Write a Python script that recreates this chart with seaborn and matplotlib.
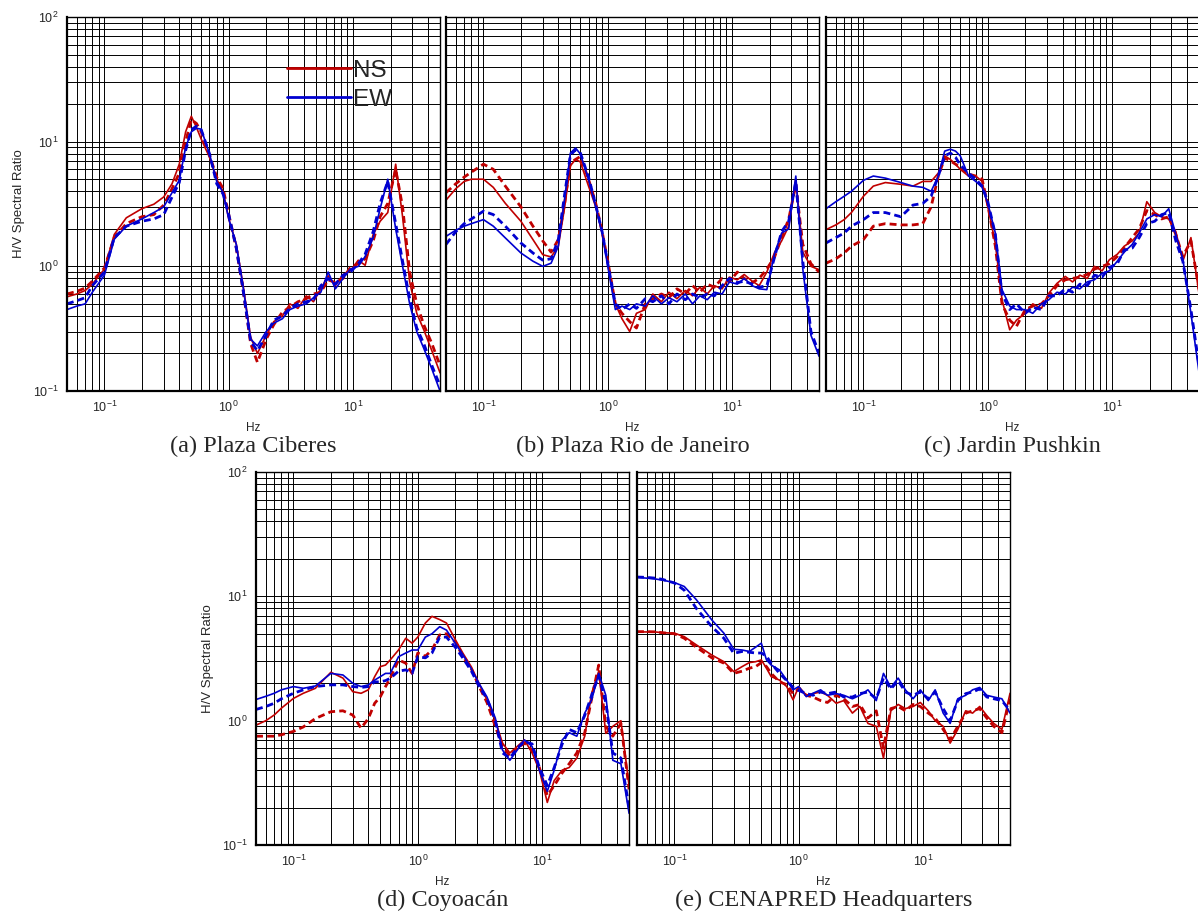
import pandas as pd
import matplotlib.pyplot as plt
import seaborn as sns
from matplotlib.lines import Line2D

# frequency grid (Hz) shared by every curve
freq = [0.05, 0.06, 0.07, 0.08, 0.1, 0.12, 0.15, 0.2, 0.25, 0.3, 0.35, 0.4, 0.45, 0.5,
        0.55, 0.6, 0.7, 0.8, 0.9, 1.0, 1.15, 1.3, 1.5, 1.7, 2.0, 2.3, 2.7, 3.1, 3.6, 4.2,
        4.8, 5.5, 6.3, 7.2, 8.3, 9.5, 11, 12.5, 14.5, 16.5, 19, 22, 25, 28.5, 32.5, 37, 43, 50]

# (a) Plaza Ciberes
a_ns = [0.57, 0.6, 0.64, 0.72, 0.95, 1.8, 2.45, 2.9, 3.15, 3.6, 4.6, 6.6, 12.0, 16.0, 13.0, 10.5,
        7.5, 5.0, 4.0, 2.4, 1.5, 0.72, 0.27, 0.2, 0.28, 0.36, 0.4, 0.5, 0.46, 0.58, 0.52, 0.66,
        0.84, 0.7, 0.86, 0.92, 1.12, 1.02, 1.8, 2.3, 2.7, 6.6, 2.5, 0.75, 0.42, 0.31, 0.21, 0.14]
a_ns_d = [0.6, 0.63, 0.67, 0.76, 0.97, 1.7, 2.2, 2.5, 2.6, 3.1, 4.2, 5.6, 10.0, 15.0, 14.0, 12.0,
          7.8, 5.2, 4.2, 2.6, 1.4, 0.66, 0.24, 0.17, 0.26, 0.34, 0.43, 0.47, 0.52, 0.55, 0.6, 0.62,
          0.78, 0.74, 0.8, 0.98, 1.05, 1.15, 1.6, 2.5, 3.2, 6.0, 3.0, 0.9, 0.5, 0.34, 0.24, 0.16]
a_ew = [0.45, 0.48, 0.5, 0.62, 0.85, 1.65, 2.1, 2.4, 2.7, 3.0, 3.9, 4.9, 9.0, 12.0, 12.8, 12.6,
        8.0, 4.8, 3.9, 2.4, 1.5, 0.7, 0.26, 0.23, 0.3, 0.35, 0.38, 0.45, 0.48, 0.5, 0.56, 0.62,
        0.9, 0.66, 0.8, 0.95, 1.0, 1.2, 1.7, 2.9, 5.0, 2.0, 1.0, 0.5, 0.3, 0.22, 0.15, 0.1]
a_ew_d = [0.5, 0.53, 0.56, 0.7, 0.9, 1.7, 2.1, 2.3, 2.4, 2.6, 3.6, 4.7, 8.5, 12.5, 13.3, 12.5,
          8.0, 4.6, 3.8, 2.6, 1.4, 0.66, 0.25, 0.21, 0.28, 0.37, 0.4, 0.46, 0.5, 0.52, 0.54, 0.7,
          0.8, 0.72, 0.85, 0.9, 1.05, 1.25, 1.9, 3.2, 4.8, 2.2, 1.1, 0.55, 0.32, 0.24, 0.16, 0.11]

# (b) Plaza Rio de Janeiro
b_ns = [3.4, 4.2, 4.8, 5.0, 5.0, 4.3, 3.2, 2.3, 1.64, 1.24, 1.19, 1.45, 3.0, 6.4, 7.2, 6.9,
        4.4, 3.0, 1.85, 1.06, 0.5, 0.38, 0.3, 0.42, 0.45, 0.6, 0.52, 0.62, 0.55, 0.64, 0.58, 0.68,
        0.6, 0.7, 0.66, 0.82, 0.78, 0.86, 0.76, 0.7, 0.9, 1.3, 1.6, 2.1, 5.0, 1.3, 1.0, 0.94]
b_ns_d = [3.9, 4.6, 5.2, 5.7, 6.6, 6.0, 4.4, 3.0, 2.1, 1.6, 1.3, 1.64, 3.2, 6.8, 7.2, 7.6,
          5.0, 3.2, 1.9, 1.1, 0.5, 0.42, 0.36, 0.32, 0.5, 0.55, 0.6, 0.56, 0.66, 0.6, 0.7, 0.62,
          0.72, 0.68, 0.8, 0.75, 0.9, 0.8, 0.74, 0.8, 0.95, 1.2, 1.7, 2.4, 4.5, 1.5, 1.05, 0.9]
b_ew = [1.74, 1.95, 2.1, 2.2, 2.37, 2.1, 1.69, 1.28, 1.1, 1.0, 1.06, 1.45, 3.5, 8.1, 8.9, 8.0,
        5.0, 3.0, 1.85, 1.0, 0.45, 0.48, 0.45, 0.5, 0.48, 0.58, 0.5, 0.56, 0.52, 0.6, 0.5, 0.58,
        0.54, 0.62, 0.6, 0.75, 0.72, 0.8, 0.7, 0.66, 0.65, 1.28, 1.85, 2.0, 5.3, 0.95, 0.28, 0.19]
b_ew_d = [1.5, 1.9, 2.2, 2.4, 2.77, 2.6, 2.1, 1.54, 1.28, 1.12, 1.15, 1.64, 3.8, 7.8, 8.6, 8.2,
          5.2, 3.1, 1.9, 1.05, 0.5, 0.45, 0.5, 0.46, 0.55, 0.52, 0.58, 0.5, 0.6, 0.54, 0.6, 0.56,
          0.6, 0.58, 0.7, 0.8, 0.74, 0.76, 0.72, 0.68, 0.7, 1.2, 1.9, 2.3, 4.8, 1.1, 0.3, 0.2]

# (c) Jardin Pushkin
c_ns = [1.97, 2.15, 2.37, 2.7, 3.65, 4.4, 4.7, 4.55, 4.4, 4.8, 4.8, 5.6, 7.7, 7.2, 6.6, 6.0,
        5.3, 5.3, 4.8, 3.0, 1.52, 0.54, 0.31, 0.37, 0.42, 0.5, 0.46, 0.61, 0.73, 0.83, 0.75, 0.85,
        0.8, 1.0, 0.92, 1.13, 1.25, 1.45, 1.6, 1.85, 3.3, 2.7, 2.5, 2.4, 1.9, 1.1, 1.7, 0.6]
c_ns_d = [1.06, 1.15, 1.28, 1.45, 1.64, 2.1, 2.2, 2.15, 2.15, 2.2, 3.0, 5.3, 7.4, 7.0, 6.6, 6.2,
          5.5, 5.3, 5.0, 3.1, 1.45, 0.5, 0.37, 0.33, 0.45, 0.48, 0.5, 0.58, 0.7, 0.78, 0.8, 0.82,
          0.86, 0.95, 1.0, 1.05, 1.2, 1.4, 1.7, 2.0, 2.8, 2.6, 2.4, 2.5, 1.8, 1.2, 1.6, 0.65]
c_ew = [2.9, 3.3, 3.65, 4.0, 4.9, 5.3, 5.1, 4.7, 4.4, 4.3, 4.0, 5.3, 8.4, 8.7, 8.4, 7.7,
        5.3, 4.8, 4.3, 3.2, 1.85, 0.65, 0.48, 0.45, 0.45, 0.42, 0.5, 0.54, 0.62, 0.6, 0.68, 0.66,
        0.75, 0.78, 0.88, 0.92, 1.1, 1.3, 1.5, 1.85, 2.4, 2.6, 2.5, 2.9, 1.8, 1.15, 0.42, 0.14]
c_ew_d = [1.54, 1.7, 1.85, 2.1, 2.37, 2.7, 2.7, 2.5, 3.1, 3.2, 3.65, 5.3, 7.7, 8.1, 7.5, 6.5,
          5.6, 5.0, 4.4, 3.3, 1.8, 0.6, 0.45, 0.5, 0.42, 0.47, 0.45, 0.58, 0.58, 0.66, 0.62, 0.72,
          0.7, 0.85, 0.82, 0.98, 1.05, 1.35, 1.4, 1.7, 2.2, 2.3, 2.6, 2.7, 1.6, 1.1, 0.45, 0.16]

# (d) Coyoacán
d_ns = [0.92, 1.0, 1.11, 1.26, 1.51, 1.66, 1.82, 2.45, 2.2, 1.71, 1.66, 1.77, 2.26, 2.72, 2.8, 3.08,
        3.7, 4.6, 4.2, 4.7, 6.1, 6.9, 6.5, 6.1, 4.5, 3.5, 2.7, 2.0, 1.47, 1.0, 0.66, 0.55,
        0.62, 0.7, 0.55, 0.4, 0.22, 0.33, 0.4, 0.42, 0.5, 0.75, 1.66, 2.5, 0.79, 0.9, 1.0, 0.3]
d_ns_d = [0.75, 0.75, 0.75, 0.77, 0.82, 0.89, 1.04, 1.18, 1.2, 1.11, 0.87, 1.04, 1.38, 1.56, 1.88, 2.19,
          3.08, 2.9, 2.4, 3.5, 3.3, 3.7, 4.9, 5.0, 4.3, 3.3, 2.6, 1.9, 1.4, 0.9, 0.62, 0.52,
          0.6, 0.66, 0.58, 0.42, 0.25, 0.3, 0.38, 0.45, 0.55, 0.8, 1.5, 2.8, 0.9, 0.75, 0.95, 0.28]
d_ew = [1.48, 1.57, 1.66, 1.77, 1.88, 1.82, 1.9, 2.4, 2.33, 2.0, 1.88, 1.94, 2.12, 2.26, 2.4, 2.4,
        3.27, 3.5, 3.7, 3.7, 4.7, 5.0, 5.7, 5.35, 4.2, 3.4, 2.6, 2.0, 1.55, 1.05, 0.58, 0.48,
        0.58, 0.7, 0.62, 0.4, 0.27, 0.4, 0.7, 0.8, 0.75, 1.15, 1.47, 2.4, 1.6, 0.48, 0.45, 0.18]
d_ew_d = [1.23, 1.3, 1.38, 1.5, 1.66, 1.77, 1.88, 1.94, 1.94, 1.88, 1.85, 1.88, 2.05, 2.05, 2.1, 2.19,
          2.5, 2.56, 2.4, 3.27, 3.2, 3.5, 4.7, 4.7, 3.9, 3.2, 2.5, 1.9, 1.5, 1.0, 0.55, 0.5,
          0.6, 0.68, 0.65, 0.42, 0.3, 0.42, 0.65, 0.85, 0.8, 1.1, 1.6, 2.3, 1.4, 0.55, 0.5, 0.2]

# (e) CENAPRED Headquarters
e_ns = [5.17, 5.17, 5.17, 5.1, 5.05, 4.74, 4.07, 3.37, 2.98, 2.48, 2.72, 2.93, 2.98, 3.08, 2.64, 2.26,
        2.12, 1.88, 1.47, 1.88, 1.6, 1.65, 1.7, 1.6, 1.38, 1.45, 1.15, 1.3, 0.95, 0.9, 0.5, 1.2,
        1.35, 1.25, 1.3, 1.4, 1.2, 1.0, 0.9, 0.66, 0.85, 1.2, 1.15, 1.3, 1.1, 0.95, 0.85, 1.66]
e_ns_d = [5.2, 5.2, 5.18, 5.1, 5.0, 4.6, 3.9, 3.2, 2.9, 2.4, 2.5, 2.64, 2.72, 2.93, 2.72, 2.4,
          2.05, 1.95, 1.65, 1.8, 1.6, 1.55, 1.45, 1.4, 1.6, 1.5, 1.3, 1.35, 1.05, 1.2, 0.6, 1.25,
          1.3, 1.2, 1.35, 1.3, 1.15, 1.05, 0.85, 0.7, 0.9, 1.15, 1.2, 1.25, 1.05, 0.9, 0.8, 1.5]
e_ew = [14.2, 14.0, 13.8, 13.5, 12.9, 12.0, 9.4, 6.45, 5.05, 3.75, 3.7, 3.6, 3.9, 4.2, 3.08, 2.8,
        2.56, 2.12, 1.77, 1.88, 1.56, 1.66, 1.77, 1.6, 1.65, 1.6, 1.5, 1.6, 1.77, 1.45, 2.4, 1.85,
        2.2, 1.77, 1.5, 1.77, 1.45, 1.77, 1.15, 0.95, 1.5, 1.6, 1.77, 1.85, 1.6, 1.55, 1.5, 1.15]
e_ew_d = [14.3, 14.2, 14.0, 13.7, 12.8, 11.2, 8.0, 5.7, 4.6, 3.48, 3.6, 3.55, 3.5, 3.5, 3.3, 2.9,
          2.4, 2.1, 1.85, 1.75, 1.65, 1.6, 1.7, 1.65, 1.7, 1.55, 1.55, 1.65, 1.7, 1.5, 2.2, 1.8,
          2.1, 1.7, 1.6, 1.7, 1.5, 1.7, 1.25, 1.0, 1.45, 1.65, 1.7, 1.8, 1.55, 1.5, 1.45, 1.2]

panels = [
    ('(a) Plaza Ciberes', a_ns, a_ns_d, a_ew, a_ew_d),
    ('(b) Plaza Rio de Janeiro', b_ns, b_ns_d, b_ew, b_ew_d),
    ('(c) Jardin Pushkin', c_ns, c_ns_d, c_ew, c_ew_d),
    ('(d) Coyoacán', d_ns, d_ns_d, d_ew, d_ew_d),
    ('(e) CENAPRED Headquarters', e_ns, e_ns_d, e_ew, e_ew_d),
]

# axes boxes in figure fraction: left, bottom, width, height
boxes = [
    (0.0559, 0.5722, 0.3114, 0.4092),
    (0.3723, 0.5722, 0.3114, 0.4092),
    (0.6895, 0.5722, 0.3114, 0.4092),
    (0.2137, 0.0755, 0.3114, 0.4081),
    (0.5317, 0.0755, 0.3114, 0.4081),
]

RED = '#c00000'
BLUE = '#0000d0'


def to_long(ns, ns_d, ew, ew_d):
    rows = []
    for comp, kind, vals in [('NS', 'solid', ns), ('NS', 'dashed', ns_d),
                             ('EW', 'solid', ew), ('EW', 'dashed', ew_d)]:
        for f, v in zip(freq, vals):
            rows.append({'Hz': f, 'ratio': v, 'comp': comp, 'kind': kind})
    return pd.DataFrame(rows)


sns.set_style('white')
plt.rcParams['font.family'] = ['Liberation Sans', 'DejaVu Sans']

fig = plt.figure(figsize=(11.98, 9.14), dpi=100)

for i, (title, ns, ns_d, ew, ew_d) in enumerate(panels):
    ax = fig.add_axes(boxes[i])
    df = to_long(ns, ns_d, ew, ew_d)
    sns.lineplot(data=df, x='Hz', y='ratio', hue='comp', style='kind', size='kind',
                 palette={'NS': RED, 'EW': BLUE},
                 dashes={'solid': '', 'dashed': (2.5, 1.5)},
                 sizes={'solid': 1.2, 'dashed': 2.0},
                 estimator=None, sort=False, legend=False, ax=ax)
    ax.set_xscale('log')
    ax.set_yscale('log')
    ax.set_xlim(0.05, 50)
    ax.set_ylim(0.1, 100)
    ax.grid(True, which='both', color='black', linewidth=0.7)
    ax.tick_params(which='both', length=0, labelsize=9, pad=6)
    ax.set_xlabel('')
    for sp in ax.spines.values():
        sp.set_color('black')
        sp.set_linewidth(1.0)
    ax.spines['left'].set_linewidth(1.6)
    ax.spines['bottom'].set_linewidth(1.6)

    if i in (0, 3):
        ax.set_ylabel('H/V Spectral Ratio', fontsize=9.5, labelpad=6)
    else:
        ax.set_ylabel('')
        ax.tick_params(axis='y', labelleft=False)

    cx = boxes[i][0] + boxes[i][2] / 2
    ybot = boxes[i][1]
    fig.text(cx, ybot - 0.041, 'Hz', ha='center', va='center', fontsize=8.5)
    fig.text(cx, ybot - 0.061, title, ha='center', va='center', fontsize=17.5,
             family=['Liberation Serif', 'DejaVu Serif'])

    if i == 0:
        handles = [Line2D([], [], color=RED, lw=2), Line2D([], [], color=BLUE, lw=2)]
        ax.legend(handles, ['NS', 'EW'], loc='upper left', bbox_to_anchor=(0.565, 0.912),
                  frameon=False, fontsize=17.5, handlelength=2.6, handletextpad=0.1,
                  labelspacing=0.3, borderaxespad=0)

fig.savefig('out.png', dpi=100)
